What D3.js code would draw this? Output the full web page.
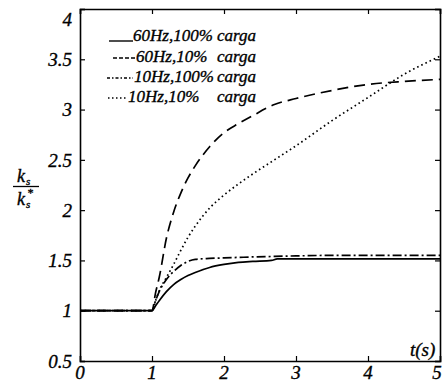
<!DOCTYPE html>
<html><head><meta charset="utf-8">
<script src="https://cdn.jsdelivr.net/npm/d3@7"></script>
<style>body{margin:0;background:#fff}svg{display:block}</style>
</head><body><svg id="c" width="442" height="387"></svg>
<script>
const xTicks = [0,1,2,3,4,5];
const yTicks = [0.5,1,1.5,2,2.5,3,3.5,4];
const yTickLabels = ["0.5","1","1.5","2","2.5","3","3.5","4"];

const tMain = [0,1,1.05,1.1,1.2,1.3,1.4,1.5,1.6,1.8,2.0,2.2,2.4,2.7,3.0,3.5,4,4.5,5];
const tSolid = [0,1,1.05,1.1,1.2,1.3,1.4,1.5,1.6,1.8,2.0,2.2,2.4,2.66,2.74,3.0,3.5,4,4.5,5];
const s60Hz100 = [1,1,1.05,1.1,1.19,1.26,1.31,1.35,1.38,1.43,1.46,1.48,1.49,1.5,1.515,1.515,1.515,1.515,1.515,1.515];
const s60Hz10  = [1,1,1.18,1.33,1.72,1.98,2.17,2.32,2.44,2.63,2.77,2.86,2.94,3.05,3.11,3.19,3.25,3.28,3.3];
const s10Hz100 = [1,1,1.1,1.19,1.31,1.39,1.45,1.49,1.51,1.52,1.525,1.53,1.535,1.54,1.545,1.55,1.55,1.55,1.55];
const s10Hz10  = [1,1,1.1,1.2,1.33,1.46,1.6,1.73,1.84,2.02,2.15,2.26,2.36,2.5,2.64,2.89,3.12,3.35,3.53];

const legendLabels = ["60Hz,100%","60Hz,10%","10Hz,100%","10Hz,10%"];
const legendWord = "carga";

const svg = d3.select("#c");
const L=80, R=440, T=9, B=361;
const x = d3.scaleLinear().domain([0,5]).range([L,R]);
const y = d3.scaleLinear().domain([0.5,4]).range([B,T]);
const FF = '"Liberation Serif"';
function txt(g, xx, yy, s, size){
  return g.append("text").attr("x",xx).attr("y",yy)
    .style("font-family",FF).style("font-style","italic").style("font-size",size+"px")
    .attr("fill","#000").attr("stroke","#000").attr("stroke-width",0.35).text(s);
}

const series = [
  {t:tSolid, v:s60Hz100, dash:null},
  {t:tMain, v:s60Hz10, dash:"11,6"},
  {t:tMain, v:s10Hz100, dash:"9,3,2,3"},
  {t:tMain, v:s10Hz10, dash:"1.6,3"}
];

const line = d3.line().x(d=>x(d[0])).y(d=>y(d[1])).curve(d3.curveMonotoneX);
series.forEach(s=>{
  svg.append("path").attr("d", line(s.t.map((t,i)=>[t,s.v[i]])))
    .attr("fill","none").attr("stroke","#000").attr("stroke-width",1.7)
    .attr("stroke-dasharray", s.dash);
});

// axes
const ax = svg.append("g");
ax.append("g").attr("transform",`translate(0,${B})`).call(d3.axisBottom(x).tickValues(xTicks).tickSize(-5).tickFormat(""));
ax.append("g").attr("transform",`translate(0,${T})`).call(d3.axisTop(x).tickValues(xTicks).tickSize(-5).tickFormat(""));
ax.append("g").attr("transform",`translate(${L},0)`).call(d3.axisLeft(y).tickValues(yTicks).tickSize(-5).tickFormat(""));
ax.append("g").attr("transform",`translate(${R},0)`).call(d3.axisRight(y).tickValues(yTicks).tickSize(-5).tickFormat(""));
ax.selectAll("path.domain").attr("stroke","#000").attr("stroke-width",1.6);
ax.selectAll(".tick line").attr("stroke","#000").attr("stroke-width",1.2);

// tick labels
const tl = svg.append("g");
yTicks.forEach((v,i)=>{
  txt(tl, 72, y(v)+(v===4?10:0), yTickLabels[i], 19).attr("dy","0.35em").attr("text-anchor","end");
});
xTicks.forEach(v=>{
  txt(tl, Math.min(x(v),437), 379, String(v), 19).attr("text-anchor","middle");
});
txt(tl, 410, 356, "t(s)", 19);

// y label fraction
const yl = svg.append("g");
txt(yl, 17, 182, "k", 18);
txt(yl, 26, 185, "s", 11);
yl.append("line").attr("x1",13).attr("x2",39).attr("y1",186.5).attr("y2",186.5).attr("stroke","#000").attr("stroke-width",1.3);
txt(yl, 17, 205, "k", 18);
txt(yl, 26, 208, "s", 11);
txt(yl, 27, 197, "*", 12);

// legend
const leg = svg.append("g");
const legRows = [41,62,82,102];
const legLineX = [[109,133],[113,135],[107,133],[108,128]];
const legTextX = [133,136,134,128];
legendLabels.forEach((lab,i)=>{
  leg.append("line").attr("x1",legLineX[i][0]).attr("x2",legLineX[i][1])
    .attr("y1",legRows[i]-(i===0?0:4)).attr("y2",legRows[i]-(i===0?0:4))
    .attr("stroke","#000").attr("stroke-width",1.4)
    .attr("stroke-dasharray",[null,"4,2","3,2,1.5,2","1.5,2.5"][i]);
  txt(leg, legTextX[i], legRows[i], lab, 17);
  txt(leg, 217, legRows[i], legendWord, 17);
});
</script></body></html>
